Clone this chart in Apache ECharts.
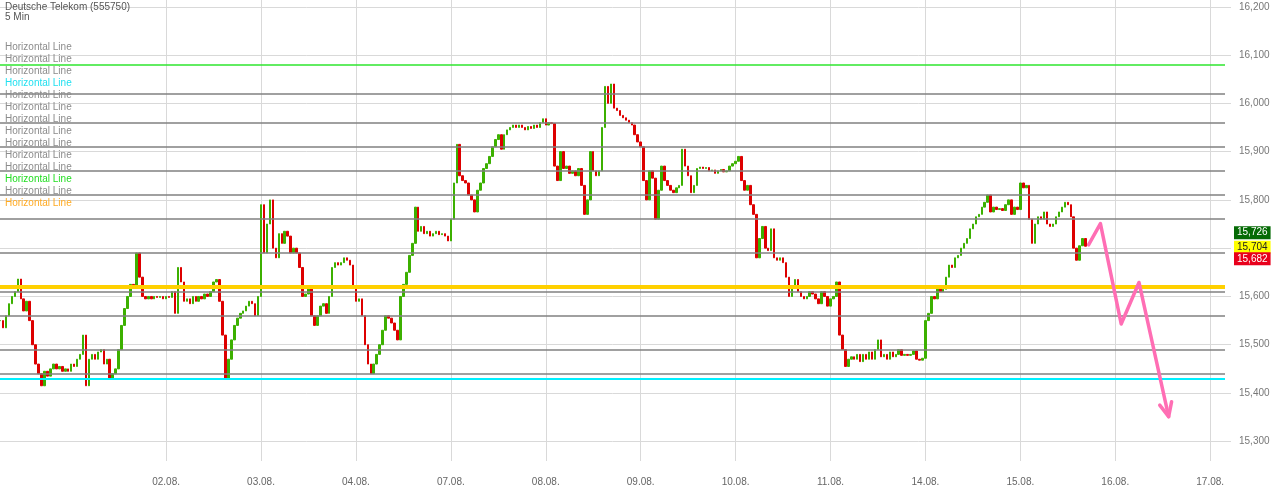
<!DOCTYPE html>
<html><head><meta charset="utf-8">
<script src="https://cdn.jsdelivr.net/npm/echarts@6/dist/echarts.min.js"></script>
<style>html,body{margin:0;padding:0;background:#fff}#c{width:1274px;height:491px}</style>
</head><body><div id="c"></div>
<script>
// ---------- data ----------
const titleText = 'Deutsche Telekom (555750)';
const subTitleText = '5 Min';
const dayLabels = ['02.08.','03.08.','04.08.','07.08.','08.08.','09.08.','10.08.','11.08.','14.08.','15.08.','16.08.','17.08.'];
const slotsPerDay = 32;
const preSlots = 56;
const tailSlots = 6;

// close prices per 5-min slot group (EUR)
const closesPre = [15.55,15.535,15.56,15.585,15.60,15.61,15.636,15.595,15.57,15.59,
15.55,15.50,15.46,15.44,15.415,15.445,15.435,15.45,15.46,15.45,
15.455,15.445,15.45,15.445,15.46,15.455,15.47,15.48,15.52,15.415,
15.47,15.48,15.47,15.485,15.49,15.46,15.47,15.43,15.44,15.45,
15.49,15.54,15.575,15.60,15.625,15.62,15.69,15.64,15.60,15.595,
15.60,15.595,15.60,15.598,15.60,15.595];
const closes0208 = [15.60,15.598,15.61,15.565,15.66,15.63,15.59,15.595,15.585,15.60,
15.59,15.60,15.595,15.605,15.60,15.61,15.63,15.635,15.59,15.52,
15.43,15.47,15.51,15.54,15.555,15.565,15.57,15.58,15.59,15.585,
15.56,15.60];
const closes0308 = [15.79,15.69,15.75,15.80,15.70,15.68,15.73,15.71,15.735,15.725,
15.69,15.70,15.69,15.66,15.60,15.605,15.62,15.56,15.54,15.56,
15.58,15.585,15.565,15.60,15.66,15.67,15.665,15.67,15.68,15.675,
15.665,15.62];
const closes0408 = [15.59,15.595,15.56,15.50,15.46,15.44,15.46,15.48,15.50,15.53,
15.56,15.555,15.545,15.53,15.51,15.60,15.625,15.65,15.685,15.71,
15.785,15.735,15.745,15.73,15.735,15.725,15.73,15.735,15.728,15.73,
15.725,15.715];
const closes0708 = [15.76,15.835,15.915,15.85,15.84,15.835,15.81,15.80,15.775,15.82,
15.835,15.865,15.875,15.89,15.91,15.925,15.935,15.905,15.935,15.945,
15.95,15.955,15.95,15.955,15.95,15.945,15.952,15.948,15.955,15.95,
15.96,15.968];
const closes0808 = [15.955,15.96,15.958,15.87,15.84,15.90,15.865,15.87,15.855,15.86,
15.85,15.865,15.83,15.77,15.80,15.90,15.86,15.85,15.86,15.95,
16.035,16.00,16.04,15.99,15.985,15.975,15.97,15.965,15.96,15.955,
15.935,15.92];
const closes0908 = [15.91,15.84,15.80,15.86,15.845,15.76,15.82,15.87,15.84,15.83,
15.82,15.815,15.825,15.83,15.905,15.87,15.85,15.815,15.83,15.865,
15.868,15.865,15.867,15.86,15.862,15.855,15.86,15.863,15.858,15.86,
15.87,15.875];
const closes1008 = [15.88,15.89,15.84,15.82,15.83,15.79,15.77,15.68,15.72,15.745,
15.70,15.695,15.74,15.68,15.675,15.68,15.67,15.64,15.60,15.62,
15.635,15.61,15.60,15.595,15.60,15.61,15.605,15.595,15.585,15.61,
15.60,15.58];
const closes1108 = [15.595,15.60,15.63,15.52,15.49,15.455,15.47,15.475,15.47,15.48,
15.465,15.48,15.47,15.485,15.47,15.49,15.51,15.475,15.48,15.47,
15.485,15.475,15.48,15.49,15.478,15.48,15.478,15.48,15.487,15.47,
15.468,15.472];
const closes1408 = [15.55,15.565,15.60,15.595,15.62,15.61,15.615,15.64,15.665,15.66,
15.68,15.685,15.70,15.71,15.72,15.74,15.75,15.765,15.77,15.785,
15.795,15.81,15.775,15.785,15.78,15.782,15.778,15.79,15.80,15.77,
15.785,15.78];
const closes1508 = [15.835,15.825,15.83,15.76,15.71,15.75,15.765,15.76,15.775,15.75,
15.745,15.75,15.765,15.775,15.785,15.795,15.79,15.765,15.70,15.675,
15.705,15.72,15.704];

// horizontal drawing lines (top to bottom)
const hLineValues = [16.083,16.016,15.964,15.906,15.860,15.812,15.757,15.685,15.621,15.612,15.562,15.495,15.443,15.425];
const hLineKinds  = ['green','gray','gray','gray','gray','gray','gray','gray','yellow','gray','gray','gray','gray','cyan'];
// legend entries of the drawing tool
const legendTexts = Array(14).fill('Horizontal Line');
const legendKinds = ['gray','gray','gray','cyan','gray','gray','gray','gray','gray','gray','gray','green','gray','orange'];
// price tags on right axis
const tagValues = [15.726,15.704,15.682];
// hand-drawn forecast arrow (slot index, price)
const arrowPath = [[367,15.707],[371,15.751],[378,15.543],[384,15.629],[394,15.351]];
const arrowHead = [[391,15.375],[394,15.351],[395,15.382]];

// ---------- build ----------
const categories = [];
for (let j = 0; j < preSlots; j++) categories.push('pre#' + j);
dayLabels.forEach((d, di) => {
  const n = di === dayLabels.length - 1 ? tailSlots : slotsPerDay;
  for (let j = 0; j < n; j++) categories.push(j === 0 ? d : d + '#' + j);
});
const closes = [].concat(closesPre, closes0208, closes0308, closes0408, closes0708, closes0808,
  closes0908, closes1008, closes1108, closes1408, closes1508);
const candles = closes.map((c, i) => {
  const o = i ? closes[i - 1] : c;
  return [o, c, Math.min(o, c), Math.max(o, c)];
});
const fmt = v => v.toFixed(3).replace('.', ',');
const lineColor = {gray:'#808080', green:'#2ee62e', yellow:'#ffd000', cyan:'#00f0ff'};
const lineWidth = {gray:1.5, green:1.5, yellow:4, cyan:2};
const textColor = {gray:'#8c8c8c', green:'#22dd22', cyan:'#22e0f0', orange:'#ffaa22'};
const tagStyle = [
  {bg:'#056a05', fg:'#ffffff', off:-1},
  {bg:'#ffff00', fg:'#222222', off:-1},
  {bg:'#e8001c', fg:'#ffffff', off:1}
];
const isLabelSlot = (i, v) => !String(v).includes('#');
const FONT = '"Liberation Sans", Arial, sans-serif';

const graphics = [
  {type:'text', x:5, y:7.5, z:100, style:{text:titleText, font:'10px ' + FONT, fill:'#555', verticalAlign:'middle'}},
  {type:'text', x:5, y:17.5, z:100, style:{text:subTitleText, font:'10px ' + FONT, fill:'#555', verticalAlign:'middle'}}
];
legendTexts.forEach((t, i) => graphics.push({type:'text', x:5, y:47 + 12 * i, z:100,
  style:{text:t, font:'10px ' + FONT, fill:textColor[legendKinds[i]], verticalAlign:'middle'}}));

const markData = hLineValues.map((v, i) => ({yAxis:v,
  lineStyle:{color:lineColor[hLineKinds[i]], width:lineWidth[hLineKinds[i]], type:'solid'}, label:{show:false}}));
tagValues.forEach((v, i) => markData.push({yAxis:v, lineStyle:{color:'rgba(0,0,0,0)', width:1},
  label:{show:true, position:'end', distance:9, offset:[0, tagStyle[i].off], formatter:fmt(v),
    backgroundColor:tagStyle[i].bg, color:tagStyle[i].fg, fontSize:10, fontFamily:FONT,
    padding:[2,3,1,3], lineHeight:10, opacity:1}}));

const chart = echarts.init(document.getElementById('c'), null, {renderer:'canvas'});
chart.setOption({
  animation:false,
  backgroundColor:'#ffffff',
  textStyle:{fontFamily:FONT},
  grid:{left:-1, right:49, top:0, bottom:30, containLabel:false},
  xAxis:{type:'category', data:categories, boundaryGap:false,
    axisLine:{show:false}, axisTick:{show:false},
    axisLabel:{interval:isLabelSlot, formatter:v => v.includes('#') ? '' : v, color:'#666', fontSize:10, margin:16, fontFamily:FONT},
    splitLine:{show:true, interval:isLabelSlot, lineStyle:{color:'#d9d9d9', width:1}}},
  yAxis:{type:'value', position:'right', min:15.2592, max:16.2140, splitNumber:9, scale:true,
    axisLine:{show:false},
    axisTick:{show:true, length:6, lineStyle:{color:'#d9d9d9'}},
    axisLabel:{color:'#777', fontSize:10, margin:14, fontFamily:FONT, showMinLabel:false, showMaxLabel:false,
      formatter:v => { const r = Math.round(v * 10) / 10; if (Math.abs(v - r) > 1e-6) return ''; if (Math.abs(r - 15.7) < 1e-6) return ''; return fmt(r); }},
    splitLine:{show:true, showMinLine:false, showMaxLine:false, lineStyle:{color:'#d9d9d9', width:1}}},
  series:[
    {type:'candlestick', data:candles, barWidth:2, clip:false,
      itemStyle:{color:'#3cb000', color0:'#dd0000', borderColor:'#3cb000', borderColor0:'#dd0000', borderWidth:1},
      markLine:{silent:true, symbol:['none','none'], animation:false, data:markData}},
    {type:'line', data:arrowPath, symbol:'none', z:5, lineStyle:{color:'#ff6eb4', width:3.5, cap:'round', join:'round'}},
    {type:'line', data:arrowHead, symbol:'none', z:5, lineStyle:{color:'#ff6eb4', width:3.5, cap:'round', join:'round'}}
  ],
  graphic:graphics
});
</script></body></html>
